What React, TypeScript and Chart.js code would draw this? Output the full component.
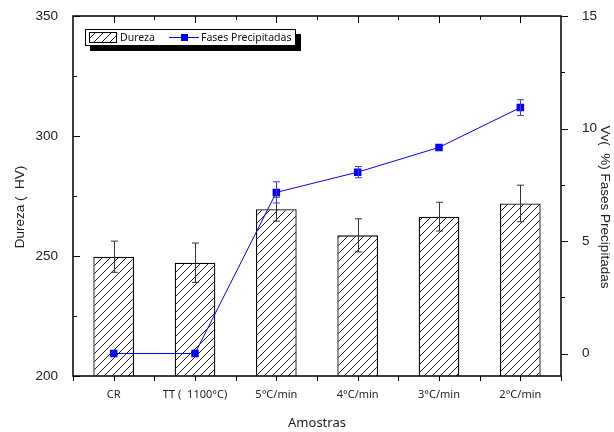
import React, { useEffect, useRef } from 'react';
import { Chart, registerables } from 'chart.js';

Chart.register(...registerables);

const categories = ['CR', 'TT (  1100°C)', '5°C/min', '4°C/min', '3°C/min', '2°C/min'];
const durezaValues = [249.7, 247.2, 269.5, 258.6, 266.4, 271.9];
const durezaErrors = [6.5, 8.2, 5.0, 6.9, 6.0, 7.6];
const fasesValues = [0, 0, 7.16, 8.06, 9.16, 10.93];
const fasesErrors = [0, 0, 0.47, 0.25, 0, 0.35];
const leftTicks = [200, 250, 300, 350];
const leftMinorTicks = [225, 275, 325];
const rightTicks = [0, 5, 10, 15];
const rightMinorTicks = [2.5, 7.5, 12.5];

const leftTitle = 'Dureza (  HV)';
const rightTitle = 'Vv(  %) Fases Precipitadas';
const bottomTitle = 'Amostras';
const legendBar = 'Dureza';
const legendLine = 'Fases Precipitadas';

const NUM_FONT = 'Liberation Sans, Arial, sans-serif';
const TXT_FONT = 'Noto Sans, Open Sans, sans-serif';
const BLUE = '#0000ff';

function makeHatch(): CanvasPattern | string {
  const c = document.createElement('canvas');
  const s = 8;
  c.width = s;
  c.height = s;
  const g = c.getContext('2d');
  if (!g) return '#fff';
  g.fillStyle = '#fff';
  g.fillRect(0, 0, s, s);
  g.strokeStyle = '#000';
  g.lineWidth = 0.9;
  g.beginPath();
  g.moveTo(0, s);
  g.lineTo(s, 0);
  g.moveTo(-2, 2);
  g.lineTo(2, -2);
  g.moveTo(s - 2, s + 2);
  g.lineTo(s + 2, s - 2);
  g.stroke();
  return g.createPattern(c, 'repeat') || '#fff';
}

export default function App() {
  const ref = useRef<HTMLCanvasElement | null>(null);

  useEffect(() => {
    document.body.style.margin = '0';
    const canvas = ref.current;
    if (!canvas) return;
    const hatch = makeHatch();

    const errorPlugin = {
      id: 'errorBars',
      afterDatasetDraw(chart: any, args: any) {
        const ctx = chart.ctx;
        const xs = chart.scales.x;
        let vals: number[], errs: number[], scale: any, color: string;
        if (args.index === 1) {
          vals = durezaValues; errs = durezaErrors; scale = chart.scales.y; color = '#333';
        } else {
          vals = fasesValues; errs = fasesErrors; scale = chart.scales.y1; color = '#3a3aff';
        }
        ctx.save();
        ctx.strokeStyle = color;
        ctx.lineWidth = 1;
        for (let i = 0; i < vals.length; i++) {
          if (!errs[i]) continue;
          const x = Math.round(xs.getPixelForValue(i)) + 0.5;
          const yt = scale.getPixelForValue(vals[i] + errs[i]);
          const yb = scale.getPixelForValue(vals[i] - errs[i]);
          ctx.beginPath();
          ctx.moveTo(x, yt); ctx.lineTo(x, yb);
          ctx.moveTo(x - 3.5, yt); ctx.lineTo(x + 3.5, yt);
          ctx.moveTo(x - 3.5, yb); ctx.lineTo(x + 3.5, yb);
          ctx.stroke();
        }
        ctx.restore();
      },
    };

    const framePlugin = {
      id: 'frame',
      afterDraw(chart: any) {
        const ctx = chart.ctx;
        const a = chart.chartArea;
        const xs = chart.scales.x;
        const yl = chart.scales.y;
        const yr = chart.scales.y1;
        ctx.save();
        ctx.strokeStyle = '#000';
        ctx.lineWidth = 1;
        const n = categories.length;
        const band = (a.right - a.left) / n;
        ctx.beginPath();
        for (let i = 0; i < n; i++) {
          const x = Math.round(xs.getPixelForValue(i)) + 0.5;
          ctx.moveTo(x, a.top); ctx.lineTo(x, a.top + 7);
          ctx.moveTo(x, a.bottom); ctx.lineTo(x, a.bottom + 5);
        }
        for (let k = 0; k <= n; k++) {
          const x = Math.round(a.left + k * band) + 0.5;
          if (k > 0 && k < n) { ctx.moveTo(x, a.top); ctx.lineTo(x, a.top + 4); }
          ctx.moveTo(x, a.bottom); ctx.lineTo(x, a.bottom + 5);
        }
        for (const v of leftTicks) {
          const y = Math.round(yl.getPixelForValue(v)) + 0.5;
          ctx.moveTo(a.left, y); ctx.lineTo(a.left + 7, y);
        }
        for (const v of leftMinorTicks) {
          const y = Math.round(yl.getPixelForValue(v)) + 0.5;
          ctx.moveTo(a.left, y); ctx.lineTo(a.left + 4, y);
        }
        for (const v of rightTicks) {
          const y = Math.round(yr.getPixelForValue(v)) + 0.5;
          ctx.moveTo(a.right, y); ctx.lineTo(a.right + 7, y);
        }
        for (const v of rightMinorTicks) {
          const y = Math.round(yr.getPixelForValue(v)) + 0.5;
          ctx.moveTo(a.right, y); ctx.lineTo(a.right + 4, y);
        }
        ctx.stroke();
        ctx.lineWidth = 1.5;
        ctx.strokeRect(a.left, a.top, a.right - a.left, a.bottom - a.top);

        // axis titles
        ctx.fillStyle = '#222';
        ctx.textAlign = 'center';
        ctx.textBaseline = 'middle';
        ctx.font = `13.5px ${NUM_FONT}`;
        ctx.save();
        ctx.translate(20, 207);
        ctx.rotate(-Math.PI / 2);
        ctx.fillText(leftTitle, 0, 0);
        ctx.restore();
        ctx.save();
        ctx.translate(605, 207);
        ctx.rotate(Math.PI / 2);
        ctx.fillText(rightTitle, 0, 0);
        ctx.restore();
        ctx.font = `13px ${TXT_FONT}`;
        ctx.fillText(bottomTitle, (a.left + a.right) / 2, 423);

        // legend
        ctx.fillStyle = '#000';
        ctx.fillRect(90, 34, 211, 17);
        ctx.fillStyle = '#fff';
        ctx.fillRect(85, 29, 210, 16);
        ctx.lineWidth = 1;
        ctx.strokeStyle = '#000';
        ctx.strokeRect(85.5, 29.5, 210, 16);
        ctx.fillStyle = hatch as any;
        ctx.fillRect(89, 32, 28, 11);
        ctx.strokeRect(89.5, 32.5, 27, 10);
        ctx.fillStyle = '#111';
        ctx.textAlign = 'left';
        ctx.font = `10.5px ${TXT_FONT}`;
        ctx.fillText(legendBar, 120, 38);
        ctx.strokeStyle = BLUE;
        ctx.beginPath();
        ctx.moveTo(169, 37.5); ctx.lineTo(199, 37.5);
        ctx.stroke();
        ctx.fillStyle = BLUE;
        ctx.fillRect(181, 34, 7, 7);
        ctx.fillStyle = '#111';
        ctx.fillText(legendLine, 201, 38);
        ctx.restore();
      },
    };

    const fitY = (w: number) => (s: any) => {
      s.width = w;
      s.paddingTop = 0;
      s.paddingBottom = 0;
    };

    const chart = new Chart(canvas, {
      type: 'bar',
      data: {
        labels: categories,
        datasets: [
          {
            type: 'line',
            label: legendLine,
            data: fasesValues,
            yAxisID: 'y1',
            borderColor: BLUE,
            backgroundColor: BLUE,
            borderWidth: 1,
            pointStyle: 'rect',
            pointRadius: 5.3,
            pointBorderWidth: 0,
            pointBackgroundColor: BLUE,
            order: 0,
          } as any,
          {
            type: 'bar',
            label: legendBar,
            data: durezaValues,
            yAxisID: 'y',
            base: 200,
            backgroundColor: hatch as any,
            borderColor: '#000',
            borderWidth: 1.3,
            barPercentage: 0.5,
            categoryPercentage: 1,
            order: 1,
          } as any,
        ],
      },
      options: {
        responsive: false,
        animation: false,
        devicePixelRatio: 1,
        layout: { padding: { top: 16, left: 0, right: 0, bottom: 0 } },
        plugins: { legend: { display: false }, tooltip: { enabled: false } },
        scales: {
          x: {
            offset: true,
            grid: { display: false },
            border: { display: false },
            ticks: { color: '#222', padding: 4, font: { family: TXT_FONT, size: 11 }, maxRotation: 0 },
            afterFit: (s: any) => { s.height = 56; s.paddingLeft = 0; s.paddingRight = 0; },
          },
          y: {
            position: 'left',
            min: 200,
            max: 350,
            grid: { display: false },
            border: { display: false },
            afterBuildTicks: (s: any) => { s.ticks = leftTicks.map((v) => ({ value: v })); },
            ticks: { color: '#222', padding: 7, font: { family: NUM_FONT, size: 13.5 } },
            afterFit: fitY(73),
          },
          y1: {
            position: 'right',
            min: -1,
            max: 15,
            grid: { display: false },
            border: { display: false },
            afterBuildTicks: (s: any) => { s.ticks = rightTicks.map((v) => ({ value: v })); },
            ticks: { color: '#222', padding: 13, font: { family: NUM_FONT, size: 13.5 } },
            afterFit: fitY(53),
          },
        },
      } as any,
      plugins: [errorPlugin, framePlugin],
    });
    return () => chart.destroy();
  }, []);

  return (
    <div style={{ width: 614, height: 432, background: '#fff' }}>
      <canvas ref={ref} width={614} height={432} style={{ display: 'block' }} />
    </div>
  );
}
